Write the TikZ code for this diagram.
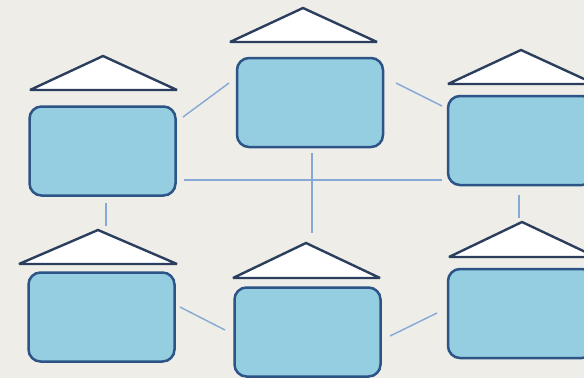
\documentclass[tikz,border=0pt]{standalone}
\definecolor{bgc}{HTML}{EEEDE7}
\definecolor{boxfill}{HTML}{95CEE1}
\definecolor{boxline}{HTML}{2C5486}
\definecolor{roofline}{HTML}{2B3E5E}
\definecolor{linkc}{HTML}{86A8D4}
\begin{document}
\begin{tikzpicture}[x=1pt,y=-1pt,
  box/.style={draw=boxline,fill=boxfill,line width=2.5pt,rounded corners=12pt,minimum width=146pt,minimum height=89pt,inner sep=0pt},
  roof/.style={draw=roofline,fill=white,line width=2.4pt,line join=miter,miter limit=2},
  link/.style={draw=linkc,line width=1.4pt}]
\useasboundingbox (0,0) rectangle (584,378);
\fill[bgc] (0,0) rectangle (584,378);
% boxes
\node[box] (A) at (102.5,151) {};
\node[box] (B) at (310,102.5) {};
\node[box] (C) at (521,140.5) {};
\node[box] (D) at (101.5,317) {};
\node[box] (E) at (307.5,332) {};
\node[box] (F) at (521,313.5) {};
% roofs
\path[roof] (30,90) -- (103,56) -- (177,90) -- cycle;
\path[roof] (230,42) -- (303,8) -- (377,42) -- cycle;
\path[roof] (448,84) -- (521,50) -- (595,84) -- cycle;
\path[roof] (19,264) -- (98,230) -- (177,264) -- cycle;
\path[roof] (233,278) -- (306,243) -- (380,278) -- cycle;
\path[roof] (449,257) -- (522,222) -- (596,257) -- cycle;
% link end points
\coordinate (ab1) at (183,117); \coordinate (ab2) at (229,83);
\coordinate (bc1) at (396,83);  \coordinate (bc2) at (442,106);
\coordinate (ac1) at (184,180); \coordinate (ac2) at (442,180);
\coordinate (bv1) at (312,153); \coordinate (bv2) at (312,233);
\coordinate (ad1) at (106,203); \coordinate (ad2) at (106,226);
\coordinate (cf1) at (519,195); \coordinate (cf2) at (519,218);
\coordinate (de1) at (180,307); \coordinate (de2) at (225,330);
\coordinate (ef1) at (390,336); \coordinate (ef2) at (437,313);
\draw[link] (ab1) -- (ab2);
\draw[link] (bc1) -- (bc2);
\draw[link] (ac1) -- (ac2);
\draw[link] (bv1) -- (bv2);
\draw[link] (ad1) -- (ad2);
\draw[link] (cf1) -- (cf2);
\draw[link] (de1) -- (de2);
\draw[link] (ef1) -- (ef2);
\end{tikzpicture}
\end{document}
